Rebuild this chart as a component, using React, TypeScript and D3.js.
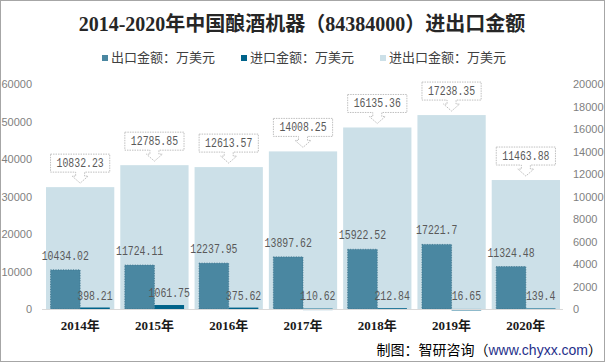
import React from 'react';
import * as d3 from 'd3';

const years = ['2014年', '2015年', '2016年', '2017年', '2018年', '2019年', '2020年'];
const exportValues = [10434.02, 11724.11, 12237.95, 13897.62, 15922.52, 17221.7, 11324.48];
const importValues = [398.21, 1061.75, 375.62, 110.62, 212.84, 16.65, 139.4];
const totalValues = [10832.23, 12785.85, 12613.57, 14008.25, 16135.36, 17238.35, 11463.88];
const leftTicks = [0, 10000, 20000, 30000, 40000, 50000, 60000];
const rightTicks = [0, 2000, 4000, 6000, 8000, 10000, 12000, 14000, 16000, 18000, 20000];
const legendItems = ['出口金额：万美元', '进口金额：万美元', '进出口金额：万美元'];

const W = 606;
const H = 364;
const C_EXPORT = '#4a87a1';
const C_IMPORT = '#00638a';
const C_TOTAL = '#cce0e8';
const monoFont = '"Liberation Mono", "Noto Sans CJK SC", monospace';
const sansFont = '"Liberation Sans", Arial, sans-serif';
const cjkFont = '"Noto Sans CJK SC", "Liberation Sans", sans-serif';

function ValueText({ x, y, text }: { x: number; y: number; text: string }) {
  return (
    <text x={x} y={y} textAnchor="middle" fontFamily={monoFont} fontSize={12}
      fill="#595959" textLength={text.length * 5.9} lengthAdjust="spacingAndGlyphs">
      {text}
    </text>
  );
}

function Callout({ cx, tipY, text }: { cx: number; tipY: number; text: string }) {
  const bw = text.length * 5.9 + 12;
  const bh = 18;
  const top = tipY - 11 - bh;
  const bottom = top + bh;
  const l = cx - bw / 2;
  const r = cx + bw / 2;
  const d = [
    `M${l},${top}`, `L${r},${top}`, `L${r},${bottom}`,
    `L${cx + 4.5},${bottom}`, `L${cx + 4.5},${bottom + 4}`, `L${cx + 8},${bottom + 4}`,
    `L${cx},${tipY}`,
    `L${cx - 8},${bottom + 4}`, `L${cx - 4.5},${bottom + 4}`, `L${cx - 4.5},${bottom}`,
    `L${l},${bottom}`, 'Z'
  ].join(' ');
  return (
    <g>
      <path d={d} fill="#fff" stroke="#bfbfbf" strokeWidth={1} strokeDasharray="1.5,1" />
      <ValueText x={cx} y={top + 13} text={text} />
    </g>
  );
}

export default function App() {
  const x = d3.scaleBand().domain(years).range([43, 563]).padding(0);
  const yLeft = d3.scaleLinear().domain([0, 60000]).range([309, 84]);
  const yRight = d3.scaleLinear().domain([0, 20000]).range([309, 84]);
  const bw = x.bandwidth();
  const inner = (bw - 15) / 2;

  return (
    <div style={{ position: 'fixed', left: 0, top: 0 }}>
      <svg width={W} height={H} style={{ display: 'block', background: '#fff' }}>
        <rect x={0.5} y={0.5} width={W - 2} height={H - 3} fill="#fff" stroke="#a6a6a6" />

        <text x={302} y={31} textAnchor="middle" fontFamily={'"Liberation Serif", "Noto Sans CJK SC", serif'}
          fontWeight="bold" fontSize={20} fill="#262626">
          2014-2020年中国酿酒机器（84384000）进出口金额
        </text>

        {legendItems.map((t, i) => (
          <g key={t} transform={`translate(${102 + i * 139},0)`}>
            <rect x={0} y={55} width={6} height={6} fill={[C_EXPORT, C_IMPORT, C_TOTAL][i]} />
            <text x={9} y={62} fontFamily={cjkFont} fontSize={13} fill="#404040">{t}</text>
          </g>
        ))}

        {leftTicks.map(v => (
          <text key={'l' + v} x={32} y={yLeft(v) + 4} textAnchor="end" fontFamily={sansFont}
            fontSize={11} fill="#7f7f7f">{v}</text>
        ))}
        {rightTicks.map(v => (
          <text key={'r' + v} x={573} y={yRight(v) + 4} textAnchor="start" fontFamily={sansFont}
            fontSize={11} fill="#7f7f7f">{v}</text>
        ))}

        {years.map((yr, i) => {
          const x0 = x(yr) as number;
          return (
            <rect key={'t' + yr} x={x0 + 3} y={yRight(totalValues[i])} width={bw - 6}
              height={309 - yRight(totalValues[i])} fill={C_TOTAL} />
          );
        })}

        {years.map((yr, i) => {
          const x0 = x(yr) as number;
          const ex = x0 + 7.5;
          const ix = ex + inner;
          return (
            <g key={'b' + yr}>
              <rect x={ex} y={yLeft(exportValues[i])} width={inner}
                height={309 - yLeft(exportValues[i])} fill={C_EXPORT}
                stroke="#3a7089" strokeWidth={0.8} strokeDasharray="1,1.5" />
              <rect x={ix} y={yLeft(importValues[i])} width={inner}
                height={Math.max(1.5, 309 - yLeft(importValues[i]))} fill={C_IMPORT} />
            </g>
          );
        })}

        <line x1={42} x2={563} y1={309.5} y2={309.5} stroke="#d9d9d9" />

        {years.map((yr, i) => {
          const x0 = x(yr) as number;
          const ex = x0 + 7.5;
          const ix = ex + inner;
          return (
            <g key={'lab' + yr}>
              <ValueText x={ex + inner / 2} y={yLeft(exportValues[i]) - 10} text={String(exportValues[i])} />
              <ValueText x={ix + inner / 2} y={Math.min(yLeft(importValues[i]), 307.5) - 8} text={String(importValues[i])} />
              <Callout cx={x0 + bw / 2} tipY={yRight(totalValues[i]) - 4} text={String(totalValues[i])} />
              <text x={x0 + bw / 2} y={330} textAnchor="middle"
                fontFamily={'"Liberation Serif", "Noto Sans CJK SC", serif'} fontWeight="bold"
                fontSize={13} fill="#1a1a1a">{yr}</text>
            </g>
          );
        })}

        <text x={602} y={355} textAnchor="end" fontFamily={cjkFont} fontSize={14} fill="#000">
          制图：智研咨询（<tspan fill="#1f2f8a" fontFamily={sansFont}>www.chyxx.com</tspan>）
        </text>
      </svg>
    </div>
  );
}
